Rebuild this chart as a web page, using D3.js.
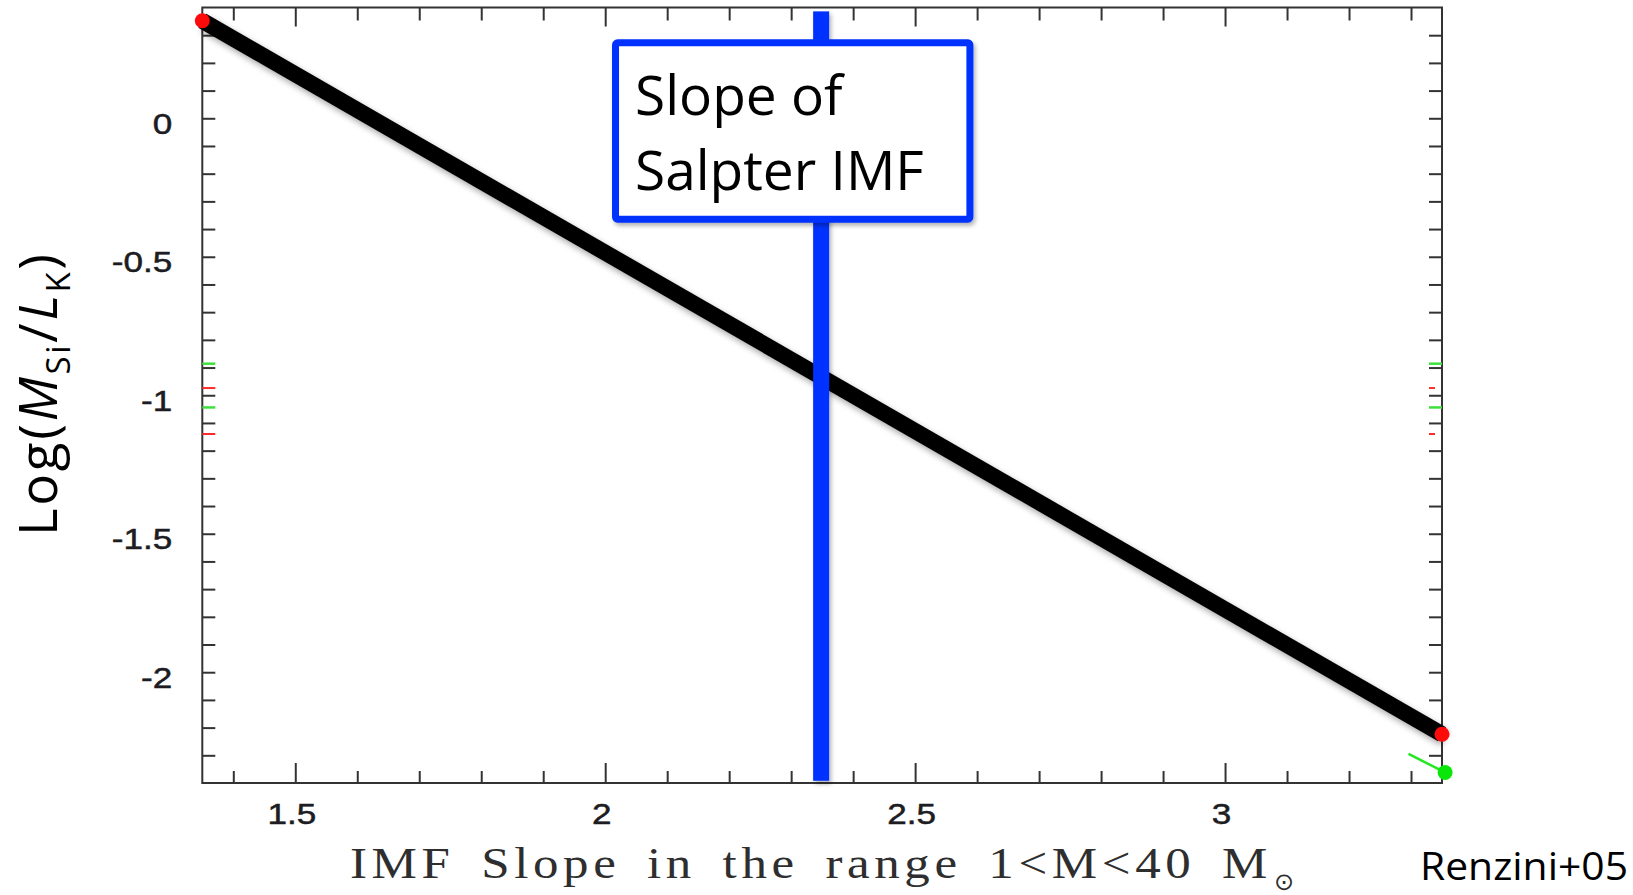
<!DOCTYPE html>
<html>
<head>
<meta charset="utf-8">
<script src="https://cdn.jsdelivr.net/npm/d3@7"></script>
<style>
  html, body { margin: 0; padding: 0; background: #fff; }
  svg { display: block; }
</style>
</head>
<body>
<svg id="chart" width="1633" height="895"></svg>
<script>
// ---- data ----------------------------------------------------------
const xDomain = [1.35, 3.35];            // IMF slope
const yDomain = [-2.4, 0.4];             // log(M_Si / L_K)

// model relation: log(M_Si/L_K) versus IMF slope
const modelSlope = [1.35, 3.35];
const modelLogMSiLK = [0.352, -2.224];

// end markers of the model (red) and the alternative model (green)
const redPointsX = [1.35, 3.35];
const redPointsY = [0.352, -2.224];
const greenSegX = [3.296, 3.355];
const greenSegY = [-2.295, -2.362];

// Salpeter slope marker
const salpeterSlope = 2.35;
const salpeterRange = [-2.392, 0.386];

// observed ranges marked on the frame
const greenMarks = [-0.886, -1.044];
const redMarks = [-0.974, -1.140];

// ticks
const xMinorTicks = d3.range(14, 34).map(d => d / 10);
const xMajorTicks = [1.5, 2, 2.5, 3];
const yTicks = d3.range(-23, 4).map(d => d / 10);
const yLabelTicks = [0, -0.5, -1, -1.5, -2];

// annotation box (data units) and its text
const boxX = [2.011, 2.594];
const boxY = [0.285, -0.377];
const boxLines = ["Slope of", "Salpter IMF"];

const xTitle = "IMF Slope in the range 1<M<40 M";
const credit = "Renzini+05";

// ---- layout --------------------------------------------------------
const svg = d3.select("#chart");
const plot = { left: 202.3, right: 1442, top: 7.5, bottom: 783 };

const x = d3.scaleLinear().domain(xDomain).range([plot.left, plot.right]);
const y = d3.scaleLinear().domain(yDomain).range([plot.bottom, plot.top]);

const defs = svg.append("defs");
function addShadow(id, dx, dy, sd, op) {
  defs.append("filter").attr("id", id)
    .attr("filterUnits", "userSpaceOnUse")
    .attr("x", 0).attr("y", 0).attr("width", 1633).attr("height", 895)
    .append("feDropShadow").attr("dx", dx).attr("dy", dy).attr("stdDeviation", sd)
    .attr("flood-color", "#000").attr("flood-opacity", op);
}
addShadow("shadow", 3, 4, 3, 0.35);
addShadow("softShadow", 2, 3, 2, 0.3);

// ---- frame and ticks ----------------------------------------------
svg.append("rect")
  .attr("x", plot.left).attr("y", plot.top)
  .attr("width", plot.right - plot.left).attr("height", plot.bottom - plot.top)
  .attr("fill", "none").attr("stroke", "#333").attr("stroke-width", 2);

const isMajor = v => xMajorTicks.some(m => Math.abs(m - v) < 1e-9);
const xMinorOnly = xMinorTicks.filter(v => !isMajor(v));

function styleAxis(g) {
  g.select(".domain").remove();
  g.selectAll(".tick line").attr("stroke", "#333").attr("stroke-width", 2);
}

// bottom
svg.append("g").attr("transform", `translate(0,${plot.bottom})`)
  .call(d3.axisBottom(x).tickValues(xMinorOnly).tickSize(-12).tickFormat(""))
  .call(styleAxis);
const bottomMajor = svg.append("g").attr("transform", `translate(0,${plot.bottom})`)
  .call(d3.axisBottom(x).tickValues(xMajorTicks).tickSize(-20).tickPadding(20)
    .tickFormat(d => String(d)))
  .call(styleAxis);

// top
svg.append("g").attr("transform", `translate(0,${plot.top})`)
  .call(d3.axisTop(x).tickValues(xMinorOnly).tickSize(-13).tickFormat(""))
  .call(styleAxis);
svg.append("g").attr("transform", `translate(0,${plot.top})`)
  .call(d3.axisTop(x).tickValues(xMajorTicks).tickSize(-19).tickFormat(""))
  .call(styleAxis);

// left
svg.append("g").attr("transform", `translate(${plot.left},0)`)
  .call(d3.axisLeft(y).tickValues(yTicks).tickSize(-13).tickFormat(""))
  .call(styleAxis);
const leftLabels = svg.append("g").attr("transform", `translate(${plot.left},0)`)
  .call(d3.axisLeft(y).tickValues(yLabelTicks).tickSize(0).tickPadding(30)
    .tickFormat(d => String(d)))
  .call(styleAxis);

// right
svg.append("g").attr("transform", `translate(${plot.right},0)`)
  .call(d3.axisRight(y).tickValues(yTicks).tickSize(-13).tickFormat(""))
  .call(styleAxis);

// tick label styling: wide, heavy sans digits
[bottomMajor, leftLabels].forEach(g => {
  g.selectAll(".tick text")
    .attr("font-family", "'Liberation Sans', Arial, sans-serif")
    .attr("font-size", 30)
    .attr("fill", "#1c1c22")
    .attr("stroke", "#1c1c22").attr("stroke-width", 0.5)
    .each(function () {
      const w = this.getComputedTextLength();
      d3.select(this).attr("textLength", w * 1.17).attr("lengthAdjust", "spacingAndGlyphs");
    });
});
bottomMajor.selectAll(".tick text").attr("dx", -4);
leftLabels.selectAll(".tick text").attr("dy", "0.5em");

// coloured range marks on both vertical axes
const marks = svg.append("g");
greenMarks.forEach(v => {
  marks.append("line").attr("x1", plot.left).attr("x2", plot.left + 13)
    .attr("y1", y(v)).attr("y2", y(v)).attr("stroke", "#3ee03e").attr("stroke-width", 2.5);
  marks.append("line").attr("x1", plot.right - 13).attr("x2", plot.right)
    .attr("y1", y(v)).attr("y2", y(v)).attr("stroke", "#3ee03e").attr("stroke-width", 2.5);
});
redMarks.forEach(v => {
  marks.append("line").attr("x1", plot.left).attr("x2", plot.left + 13)
    .attr("y1", y(v)).attr("y2", y(v)).attr("stroke", "#ff2a2a").attr("stroke-width", 2);
  marks.append("line").attr("x1", plot.right - 13).attr("x2", plot.right - 7)
    .attr("y1", y(v)).attr("y2", y(v)).attr("stroke", "#ff2a2a").attr("stroke-width", 2);
});

// ---- model line ----------------------------------------------------
const modelData = modelSlope.map((s, i) => [s, modelLogMSiLK[i]]);
svg.append("path")
  .datum(modelData)
  .attr("d", d3.line().x(d => x(d[0])).y(d => y(d[1])))
  .attr("fill", "none").attr("stroke", "#000").attr("stroke-width", 16)
  .attr("stroke-linecap", "butt")
  .attr("filter", "url(#shadow)");

// ---- Salpeter marker -----------------------------------------------
const barW = 16;
svg.append("rect")
  .attr("x", x(salpeterSlope) - barW / 2 - 1).attr("width", barW)
  .attr("y", y(salpeterRange[1]))
  .attr("height", y(salpeterRange[0]) - y(salpeterRange[1]))
  .attr("fill", "#0433ff")
  .attr("filter", "url(#softShadow)");

// annotation box
const bx0 = x(boxX[0]), bx1 = x(boxX[1]), by0 = y(boxY[0]), by1 = y(boxY[1]);
const bw = 7;
svg.append("rect")
  .attr("x", bx0 + bw / 2).attr("y", by0 + bw / 2)
  .attr("width", bx1 - bx0 - bw).attr("height", by1 - by0 - bw)
  .attr("rx", 2)
  .attr("fill", "#fff").attr("stroke", "#0433ff").attr("stroke-width", bw)
  .attr("filter", "url(#softShadow)");
svg.append("text")
  .attr("font-family", "'Open Sans', 'Noto Sans', sans-serif")
  .attr("font-size", 55).attr("fill", "#000")
  .selectAll("tspan").data(boxLines).join("tspan")
  .attr("x", bx0 + 23)
  .attr("y", (d, i) => by0 + 75.5 + i * 75)
  .text(d => d);

// ---- end markers ---------------------------------------------------
svg.append("path")
  .datum(greenSegX.map((v, i) => [v, greenSegY[i]]))
  .attr("d", d3.line().x(d => x(d[0])).y(d => y(d[1])))
  .attr("fill", "none").attr("stroke", "#22e822").attr("stroke-width", 2.5);

svg.append("circle")
  .attr("cx", x(greenSegX[1])).attr("cy", y(greenSegY[1])).attr("r", 7.5)
  .attr("fill", "#0ae60a");

svg.selectAll("circle.red")
  .data(redPointsX.map((v, i) => [v, redPointsY[i]]))
  .join("circle").attr("class", "red")
  .attr("cx", d => x(d[0])).attr("cy", d => y(d[1])).attr("r", 7.5)
  .attr("fill", "#ff0a0a");

// ---- titles --------------------------------------------------------
svg.append("text")
  .attr("x", 350).attr("y", 878)
  .attr("font-family", "'Liberation Serif', 'DejaVu Serif', serif")
  .attr("font-size", 44).attr("fill", "#2e2e2e")
  .attr("letter-spacing", 4).attr("word-spacing", 8)
  .attr("textLength", 922).attr("lengthAdjust", "spacingAndGlyphs")
  .text(xTitle);
svg.append("text")
  .attr("x", 350 + 922 + 2).attr("y", 890)
  .attr("font-family", "'DejaVu Sans', sans-serif")
  .attr("font-size", 24).attr("fill", "#2e2e2e")
  .text("\u2299");

svg.append("text")
  .attr("x", 1420).attr("y", 880)
  .attr("font-family", "'Open Sans', 'Noto Sans', sans-serif")
  .attr("font-size", 39).attr("fill", "#000")
  .attr("textLength", 208).attr("lengthAdjust", "spacingAndGlyphs")
  .text(credit);

// y title: Log(M_Si / L_K)
const yt = svg.append("text")
  .attr("transform", "translate(57,395) rotate(-90)")
  .attr("text-anchor", "middle")
  .attr("font-family", "'Open Sans', 'Noto Sans', sans-serif")
  .attr("font-size", 53).attr("fill", "#000")
  .attr("textLength", 282).attr("lengthAdjust", "spacing");
yt.append("tspan").text("Log(");
yt.append("tspan").attr("font-style", "italic").text("M");
yt.append("tspan").attr("font-size", 33).attr("dy", 13).text("Si");
yt.append("tspan").attr("dy", -13).text("/");
yt.append("tspan").attr("font-style", "italic").text("L");
yt.append("tspan").attr("font-size", 33).attr("dy", 13).text("K");
yt.append("tspan").attr("dy", -13).text(")");
</script>
</body>
</html>
